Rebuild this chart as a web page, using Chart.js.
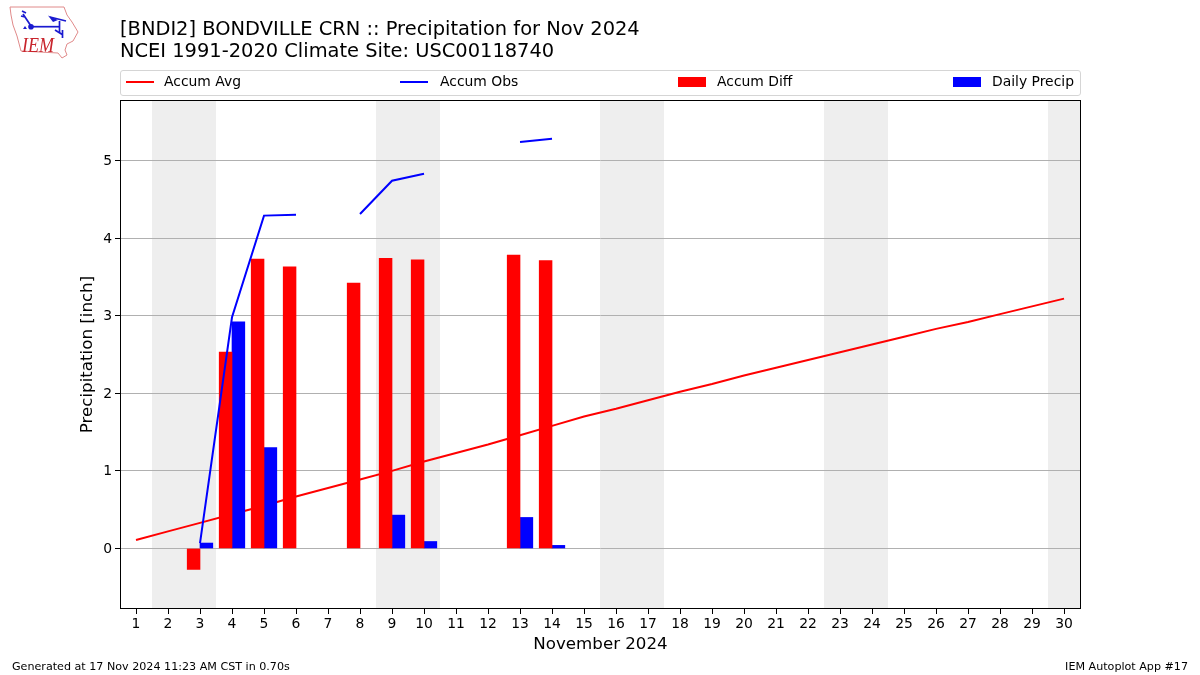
<!DOCTYPE html>
<html>
<head>
<meta charset="utf-8">
<title>BONDVILLE CRN Precipitation Nov 2024</title>
<script src="https://cdn.jsdelivr.net/npm/chart.js@4"></script>
<style>
    html, body { margin: 0; padding: 0; background: #fff; }
    body { width: 1200px; height: 675px; position: relative; overflow: hidden; font-family: "DejaVu Sans", sans-serif; color: #000; }
    canvas { position: absolute; left: 0; top: 0; }
    #logo { position: absolute; left: 0; top: 0; }
    #title { position: absolute; left: 120px; top: 18px; font-size: 19.43px; line-height: 21.5px; white-space: nowrap; }
    #legend { position: absolute; left: 120px; top: 70px; width: 959px; height: 24px; border: 1px solid #d5d5d5; border-radius: 3px; }
    .item { position: absolute; top: -1px; height: 24px; line-height: 22px; font-size: 13.9px; white-space: nowrap; }
    .swatch { position: absolute; top: 6px; width: 28px; }
    .swatch.line { height: 2px; top: 9.5px; }
    .swatch.box { height: 10px; }
    .foot { position: absolute; top: 660px; font-size: 11.13px; line-height: 13px; white-space: nowrap; }
</style>
</head>
<body>
<canvas id="chart" width="1200" height="675"></canvas>
<svg id="logo" width="90" height="65" viewBox="0 0 90 65">
    <path d="M10 7 L64 7 L67 15 L72 22 L78 32 L73 41 L67 44 L65 50 L67 55 L62 58 L58 53 L21 51 L17 36 L13 25 L11 15 Z" fill="none" stroke="#e08a8a" stroke-width="1"/>
    <g stroke="#1a1ad0" fill="none" stroke-width="1.7">
        <path d="M31 26.7 L60 26.7"/>
        <path d="M31 26 L23 14 M22 11 L26 13 M21 16 L25 17"/>
        <path d="M59.5 21 L59.5 33"/>
        <path d="M50 17 L66 21"/>
        <path d="M55 30 L63 35 M62.5 30 L62.5 38"/>
    </g>
    <circle cx="31" cy="26.7" r="2.8" fill="#1a1ad0"/>
    <path d="M48 15.5 L58 20 L53 22 Z" fill="#1a1ad0"/>
    <path d="M23 29 L25 26 L27 29 Z" fill="#1a1ad0"/>
    <text x="22" y="52" font-family="Liberation Serif" font-style="italic" font-size="20" textLength="32" lengthAdjust="spacingAndGlyphs" fill="#c8242c">IEM</text>
</svg>
<div id="title">[BNDI2] BONDVILLE CRN :: Precipitation for Nov 2024<br>NCEI 1991-2020 Climate Site: USC00118740</div>
<div id="legend"></div>
<div class="foot" style="left:12px">Generated at 17 Nov 2024 11:23 AM CST in 0.70s</div>
<div class="foot" style="right:12px">IEM Autoplot App #17</div>
<script>
const days = [1, 2, 3, 4, 5, 6, 7, 8, 9, 10, 11, 12, 13, 14, 15, 16, 17, 18, 19, 20, 21, 22, 23, 24, 25, 26, 27, 28, 29, 30];

const accumAvg = [0.11, 0.22, 0.33, 0.44, 0.55, 0.67, 0.78, 0.89, 1.00, 1.12, 1.23, 1.34, 1.46, 1.58, 1.70,
    1.80, 1.91, 2.02, 2.12, 2.23, 2.33, 2.43, 2.53, 2.63, 2.73, 2.83, 2.92, 3.02, 3.12, 3.22];
const accumObs = [null, null, 0.07, 2.98, 4.29, 4.30, null, 4.31, 4.74, 4.83, null, null, 5.24, 5.28, null,
    null, null, null, null, null, null, null, null, null, null, null, null, null, null, null];
const accumDiff = [null, null, -0.27, 2.53, 3.73, 3.63, null, 3.42, 3.74, 3.72, null, null, 3.78, 3.71, null,
    null, null, null, null, null, null, null, null, null, null, null, null, null, null, null];
const dailyPrecip = [null, null, 0.07, 2.92, 1.30, null, null, null, 0.43, 0.09, null, null, 0.40, 0.04, null,
    null, null, null, null, null, null, null, null, null, null, null, null, null, null, null];

// weekends, shaded behind the grid
const weekendStart = [1.5, 8.5, 15.5, 22.5, 29.5];
const weekendEnd = [3.5, 10.5, 17.5, 24.5, 30.5];

const FONT = '"DejaVu Sans", sans-serif';

const weekendBands = {
    id: 'weekendBands',
    beforeDraw(chart) {
        const { ctx, chartArea, scales } = chart;
        ctx.save();
        ctx.fillStyle = '#eeeeee';
        weekendStart.forEach((start, i) => {
            const x0 = scales.x.getPixelForValue(start);
            const x1 = Math.min(scales.x.getPixelForValue(weekendEnd[i]), chartArea.right);
            ctx.fillRect(x0, chartArea.top, x1 - x0, chartArea.height);
        });
        ctx.restore();
    }
};

// Chart.js only draws the axis side of the border, so box the plot here
const plotFrame = {
    id: 'plotFrame',
    afterDraw(chart) {
        const { ctx, chartArea } = chart;
        ctx.save();
        ctx.strokeStyle = '#000';
        ctx.lineWidth = 1;
        ctx.strokeRect(chartArea.left + 0.5, chartArea.top + 0.5, chartArea.width - 1, chartArea.height - 1);
        ctx.restore();
    }
};

const chart = new Chart(document.getElementById('chart').getContext('2d'), {
    type: 'bar',
    data: {
        labels: days,
        datasets: [
            { type: 'line', label: 'Accum Avg', data: accumAvg, borderColor: '#ff0000', backgroundColor: '#ff0000', borderWidth: 2, pointRadius: 0, tension: 0, order: 2 },
            { type: 'line', label: 'Accum Obs', data: accumObs, borderColor: '#0000ff', backgroundColor: '#0000ff', borderWidth: 2, pointRadius: 0, tension: 0, spanGaps: false, order: 0 },
            { label: 'Accum Diff', data: accumDiff, backgroundColor: '#ff0000', barThickness: 12.8, order: 1 },
            { label: 'Daily Precip', data: dailyPrecip, backgroundColor: '#0000ff', barThickness: 12.8, order: 1 }
        ]
    },
    options: {
        responsive: false,
        animation: false,
        layout: { padding: { top: 100, right: 119, left: 0, bottom: 0 } },
        plugins: { legend: { display: false }, title: { display: false }, tooltip: { enabled: false } },
        scales: {
            x: {
                type: 'linear',
                offset: false,
                min: 0.5,
                max: 30.53,
                afterFit(scale) { scale.height = 66; },
                border: { display: false },
                grid: { drawOnChartArea: false, drawTicks: true, tickLength: 5, tickColor: '#000', offset: false },
                ticks: { stepSize: 1, includeBounds: false, autoSkip: false, maxRotation: 0, minRotation: 0, color: '#000', padding: 2, font: { family: FONT, size: 13.9 } },
                title: { display: true, text: 'November 2024', color: '#000', font: { family: FONT, size: 16.67 }, padding: { top: 0, bottom: 20 } }
            },
            y: {
                min: -0.78,
                max: 5.78,
                afterFit(scale) { scale.width = 120; },
                border: { display: false },
                grid: { color: '#b0b0b0', lineWidth: 1, tickLength: 5, tickColor: '#000' },
                ticks: { stepSize: 1, includeBounds: false, labelOffset: 1, color: '#000', padding: 3, font: { family: FONT, size: 13.9 } },
                title: { display: true, text: 'Precipitation [inch]', color: '#000', font: { family: FONT, size: 16.67 }, padding: { top: 78, bottom: 0 } }
            }
        }
    },
    plugins: [weekendBands, plotFrame]
});

// matplotlib style expanded legend, in its own box above the plot
const legendSlots = [
    { swatch: 5, text: 43 },
    { swatch: 279, text: 319 },
    { swatch: 557, text: 596 },
    { swatch: 832, text: 871 }
];
const legend = document.getElementById('legend');
chart.data.datasets.forEach((ds, i) => {
    const swatch = document.createElement('div');
    swatch.className = 'swatch ' + (ds.type === 'line' ? 'line' : 'box');
    swatch.style.left = legendSlots[i].swatch + 'px';
    swatch.style.background = ds.backgroundColor;
    legend.appendChild(swatch);

    const item = document.createElement('div');
    item.className = 'item';
    item.style.left = legendSlots[i].text + 'px';
    item.textContent = ds.label;
    legend.appendChild(item);
});
</script>
</body>
</html>
